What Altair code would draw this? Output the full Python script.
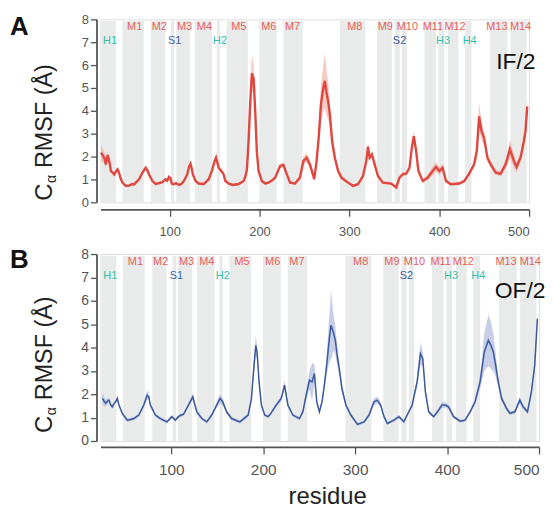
import altair as alt
import pandas as pd

# ---------------- data ----------------
res_A = [23.6, 25.5, 27.2, 29.1, 30.9, 32.8, 34.6, 36.5, 38.3, 40.2, 42.0, 43.9, 45.7, 47.5, 49.4, 51.2,
         54.9, 58.6, 60.5, 62.3, 66.0, 69.7, 72.0, 73.4, 75.2, 77.1, 80.8, 84.5, 88.2, 91.8, 95.5, 97.4,
         99.2, 101.0, 102.2, 104.8, 107.0, 110.3, 113.0, 115.8, 119.5, 121.5, 123.2, 125.0, 125.8, 128.8,
         132.4, 138.0, 143.5, 147.2, 150.0, 151.6, 153.0, 154.6, 157.5, 160.1, 162.0, 165.7, 170.0, 176.7,
         182.3, 184.0, 186.0, 187.8, 189.7, 191.5, 193.4, 195.2, 197.0, 198.9, 202.6, 206.3,
         210.0, 213.7, 217.4, 222.9, 226.6, 230.3, 234.0, 239.5, 245.0, 248.7, 252.4, 256.1, 260.9, 263.5,
         266.1, 268.3, 270.9, 272.7, 274.6, 276.4, 278.3, 280.8, 283.8, 287.5, 291.2, 298.5, 304.1, 309.6,
         315.1, 318.8, 320.7, 322.5, 325.1, 328.1, 331.8, 337.3, 346.6, 352.1, 355.8, 359.5, 363.2, 366.9,
         369.5, 371.7, 374.3, 376.8, 381.6, 387.2, 392.7, 396.4, 400.1, 403.8, 407.5, 413.0, 422.2, 427.8,
         433.3, 438.8, 441.8, 444.4, 447.0, 449.9, 453.6, 457.3, 462.8, 468.3, 473.9, 478.7, 483.1, 486.1,
         490.5, 494.2, 496.0, 497.9]
rmsf_A = [2.17, 2.05, 1.95, 1.66, 2.07, 1.80, 1.37, 1.30, 1.22, 1.35, 1.44, 1.25, 1.02, 0.86, 0.78, 0.72,
          0.73, 0.80, 0.78, 0.86, 1.01, 1.30, 1.44, 1.51, 1.40, 1.22, 0.93, 0.80, 0.84, 0.88, 1.01, 0.95,
          1.11, 1.05, 0.82, 0.79, 0.84, 0.76, 0.80, 0.93, 1.22, 1.55, 1.68, 1.40, 1.22, 0.93,
          0.82, 0.80, 1.01, 1.40, 1.80, 1.95, 1.75, 1.51, 1.37, 1.22, 0.93, 0.82, 0.76, 0.80,
          0.93, 1.10, 1.44, 2.67, 4.41, 5.64, 5.43, 3.98, 2.24, 1.37, 0.93, 0.82,
          0.86, 0.95, 1.08, 1.59, 1.63, 1.23, 0.86, 0.82, 1.08, 1.80, 1.95, 1.66, 1.01, 1.80,
          2.96, 4.27, 4.99, 5.31, 4.78, 4.41, 3.83, 2.67, 1.95, 1.37, 1.08, 0.86, 0.72, 0.79,
          1.15, 1.80, 2.43, 1.95, 2.09, 1.66, 1.15, 0.86, 0.82, 0.65, 1.08, 1.23, 1.25, 1.51,
          2.39, 2.89, 2.24, 1.37, 0.93, 1.08, 1.37, 1.55, 1.37, 1.51, 0.93, 0.79, 0.82, 0.93,
          1.25, 1.66, 2.24, 3.76, 3.11, 2.82, 1.95, 1.66, 1.30, 1.25, 1.66, 2.32, 1.80, 1.55,
          1.95, 2.67, 3.11, 4.19]
sd_A = [0.35, 0.30, 0.25, 0.20, 0.20, 0.15, 0.10, 0.08, 0.06, 0.06, 0.06, 0.06, 0.06, 0.06, 0.06, 0.06,
        0.06, 0.06, 0.06, 0.06, 0.06, 0.08, 0.10, 0.10, 0.10, 0.08, 0.06, 0.06, 0.06, 0.06, 0.08, 0.08,
        0.08, 0.08, 0.06, 0.06, 0.06, 0.06, 0.06, 0.06, 0.08, 0.10, 0.10, 0.10, 0.08, 0.06,
        0.06, 0.06, 0.06, 0.08, 0.12, 0.12, 0.12, 0.10, 0.08, 0.08, 0.06, 0.06, 0.06, 0.06,
        0.06, 0.08, 0.15, 0.40, 0.60, 0.80, 0.60, 0.40, 0.20, 0.10, 0.06, 0.06,
        0.06, 0.06, 0.08, 0.10, 0.10, 0.08, 0.06, 0.06, 0.10, 0.20, 0.20, 0.20, 0.10, 0.20,
        0.50, 0.80, 1.00, 1.20, 1.00, 0.80, 0.50, 0.30, 0.15, 0.10, 0.08, 0.06, 0.06, 0.06,
        0.08, 0.12, 0.15, 0.12, 0.12, 0.10, 0.08, 0.06, 0.06, 0.06, 0.08, 0.08, 0.08, 0.10,
        0.20, 0.25, 0.20, 0.10, 0.08, 0.12, 0.20, 0.20, 0.20, 0.15, 0.08, 0.06, 0.06, 0.08,
        0.10, 0.15, 0.30, 0.60, 0.40, 0.30, 0.20, 0.12, 0.10, 0.12, 0.20, 0.40, 0.30, 0.25,
        0.20, 0.25, 0.30, 0.30]

res_B = [25.1, 27.0, 28.7, 30.5, 32.3, 34.0, 35.9, 37.7, 39.5, 41.3, 43.1, 46.7, 52.1, 55.7, 59.3, 64.7,
         70.1, 73.7, 75.5, 77.3, 82.7, 88.1, 95.3, 100.7, 104.3, 107.9, 110.0, 113.3, 118.7, 123.4, 127.7,
         133.2, 138.6, 144.0, 149.4, 153.0, 155.9, 160.2, 165.6, 174.6, 183.6, 187.2, 189.7, 191.9, 193.3,
         195.5, 198.0, 201.6, 205.2,
         207.0, 214.2, 219.6, 223.2, 226.8, 232.2, 239.4, 243.1, 246.7, 250.3, 253.1, 255.7, 258.2, 261.1,
         264.0, 266.5, 269.0, 271.9, 273.7, 276.2, 278.4, 280.9, 282.7, 285.6, 289.9, 295.3, 302.5, 309.7,
         315.1, 320.5, 324.1, 327.7, 331.4, 335.0, 342.2, 347.6, 353.0, 356.6, 362.0, 367.4, 371.0, 373.5,
         376.4, 380.0, 385.4, 390.8, 394.4, 398.0, 401.6, 407.0, 414.2, 419.6, 425.0, 430.4, 435.9, 440.5,
         444.9, 447.7, 450.3, 452.8, 455.7, 459.3, 464.7, 468.3, 473.7, 479.1, 482.7, 487.4, 491.7, 495.3,
         498.2]
rmsf_B = [1.82, 1.70, 1.61, 1.70, 1.75, 1.55, 1.46, 1.60, 1.68, 1.82, 1.54, 1.18, 0.89, 0.92, 0.96, 1.11,
          1.54, 1.96, 1.90, 1.54, 1.11, 0.96, 0.82, 1.04, 0.89, 1.04, 1.10, 1.14, 1.54, 1.89, 1.25,
          0.96, 0.82, 1.11, 1.54, 1.82, 1.68, 1.25, 0.96, 0.82, 1.11, 1.82, 3.10, 4.09, 3.81,
          2.53, 1.54, 1.11, 1.04,
          1.11, 1.54, 1.82, 2.39, 1.54, 1.11, 0.96, 1.25, 1.96, 2.60, 2.53, 2.89, 1.68, 1.25,
          1.68, 2.39, 3.24, 4.38, 4.95, 4.66, 4.31, 3.53, 3.10, 2.25, 1.54, 1.11, 0.71, 0.82,
          1.11, 1.68, 1.75, 1.54, 1.04, 0.75, 0.89, 1.04, 0.82, 1.11, 1.54, 2.53, 3.74, 3.53,
          2.10, 1.25, 1.04, 1.32, 1.54, 1.54, 1.46, 1.04, 0.85, 0.89, 1.25, 1.68, 2.53, 3.81,
          4.31, 4.09, 3.81, 3.24, 2.53, 1.82, 1.39, 1.18, 1.25, 1.75, 1.46, 1.25, 2.10, 3.24,
          5.23]
sd_B = [0.25, 0.20, 0.15, 0.12, 0.10, 0.08, 0.07, 0.07, 0.07, 0.08, 0.07, 0.07, 0.07, 0.07, 0.07, 0.07,
        0.12, 0.20, 0.15, 0.10, 0.07, 0.07, 0.07, 0.07, 0.07, 0.07, 0.07, 0.07, 0.10, 0.15, 0.10,
        0.07, 0.07, 0.07, 0.12, 0.20, 0.15, 0.08, 0.07, 0.07, 0.07, 0.12, 0.30, 0.40, 0.30,
        0.15, 0.08, 0.07, 0.07,
        0.07, 0.08, 0.12, 0.20, 0.10, 0.07, 0.07, 0.10, 0.20, 0.40, 0.80, 0.40, 0.15, 0.10,
        0.12, 0.20, 0.40, 1.00, 1.50, 0.80, 0.60, 0.40, 0.30, 0.20, 0.10, 0.07, 0.07, 0.07,
        0.08, 0.15, 0.15, 0.12, 0.08, 0.07, 0.07, 0.08, 0.07, 0.08, 0.10, 0.20, 0.50, 0.30,
        0.15, 0.08, 0.07, 0.10, 0.12, 0.12, 0.10, 0.07, 0.07, 0.07, 0.08, 0.12, 0.30, 0.80,
        1.10, 1.00, 0.80, 0.50, 0.25, 0.12, 0.10, 0.08, 0.08, 0.15, 0.10, 0.08, 0.15, 0.25,
        0.30]

seg_name = ["H1", "M1", "M2", "S1", "M3", "M4", "H2", "M5", "M6", "M7", "M8", "M9", "S2", "M10",
            "M11", "H3", "M12", "H4", "M13", "M14"]
seg_start = [24.3, 47.5, 79.3, 101.4, 107.3, 128.0, 152.4, 163.5, 199.7, 226.6, 289.4, 330.7, 350.3,
             358.4, 383.5, 399.3, 409.7, 428.5, 456.6, 479.4]
seg_end = [40.2, 71.2, 94.8, 105.1, 122.8, 147.2, 156.0, 187.0, 219.2, 247.9, 317.7, 347.3, 356.1,
           364.2, 396.3, 405.6, 421.2, 435.9, 475.8, 497.1]
label_res = [33.6, 61.0, 88.5, 105.5, 116.6, 138.7, 156.0, 177.0, 210.3, 236.7, 306.0, 340.0, 355.8,
             364.5, 393.0, 404.3, 417.6, 433.9, 464.1, 490.5]
label_kind = ["H", "M", "M", "S", "M", "M", "H", "M", "M", "M", "M", "M", "S", "M", "M", "H", "M", "H",
              "M", "M"]
label_level = {"M": 7.65, "H": 7.05, "S": 7.05}
kind_color = {"M": "#e6605a", "H": "#2fbfa6", "S": "#3d5ea8"}

FONT = "Liberation Sans"
AXIS_COLOR = "#555555"


def panel(res, val, sd, line_color, band_color, band_opacity, line_width, width, height,
          letter, letter_y, state, state_x, state_y, ytitle_y, x_label_size, y_label_size,
          x_title, x_offset, y_offset):
    df = pd.DataFrame({"res": res, "rmsf": val,
                       "lo": [v - s for v, s in zip(val, sd)],
                       "hi": [v + s for v, s in zip(val, sd)]})
    segs = pd.DataFrame({"name": seg_name, "start": seg_start, "end": seg_end})
    labs = pd.DataFrame({"name": seg_name, "res": label_res,
                         "level": [label_level[k] for k in label_kind],
                         "color": [kind_color[k] for k in label_kind]})

    axis_kw = dict(values=[100, 200, 300, 400, 500], offset=x_offset, tickSize=7, tickWidth=1.3,
                   domainWidth=1.8, domainColor=AXIS_COLOR, tickColor=AXIS_COLOR,
                   labelColor=AXIS_COLOR, labelFont=FONT, labelFontSize=x_label_size,
                   labelPadding=9, grid=False)
    if x_title:
        xaxis = alt.Axis(title=x_title, titleFont=FONT, titleFontSize=24, titleFontWeight="normal",
                         titleColor="#222222", titlePadding=6, titleX=228, titleAlign="center",
                         **axis_kw)
    else:
        xaxis = alt.Axis(title=None, **axis_kw)
    yaxis = alt.Axis(values=list(range(0, 9)), offset=y_offset, tickSize=6, tickWidth=1.3,
                     domainWidth=1.8, domainColor=AXIS_COLOR, tickColor=AXIS_COLOR,
                     labelColor=AXIS_COLOR, labelFont=FONT, labelFontSize=y_label_size,
                     labelPadding=2, grid=False, title=None)
    xs = alt.Scale(domain=[23, 500], nice=False, zero=False)
    ys = alt.Scale(domain=[0, 8], nice=False)

    bands = alt.Chart(segs).mark_rect(color="#e9ebeb").encode(
        x=alt.X("start:Q", scale=xs, axis=xaxis), x2="end:Q",
        y=alt.Y("y0:Q", scale=ys, axis=yaxis), y2="y1:Q",
    ).transform_calculate(y0="0", y1="7.93")

    area = alt.Chart(df).mark_area(color=band_color, opacity=band_opacity).encode(
        x=alt.X("res:Q", scale=xs, axis=xaxis),
        y=alt.Y("lo:Q", scale=ys, axis=yaxis), y2="hi:Q")

    line = alt.Chart(df).mark_line(color=line_color, strokeWidth=line_width).encode(
        x=alt.X("res:Q", scale=xs, axis=xaxis),
        y=alt.Y("rmsf:Q", scale=ys, axis=yaxis))

    labels = alt.Chart(labs).mark_text(font=FONT, fontSize=11, baseline="middle",
                                       align="center").encode(
        x=alt.X("res:Q", scale=xs, axis=xaxis),
        y=alt.Y("level:Q", scale=ys, axis=yaxis),
        text="name:N", color=alt.Color("color:N", scale=None))

    def txt(t, x, y, size, **kw):
        return alt.Chart(pd.DataFrame({"t": [t]})).mark_text(font=FONT, fontSize=size, **kw).encode(
            text="t:N", x=alt.value(x), y=alt.value(y))

    letter_t = txt(letter, -81.5, letter_y, 26, fontWeight="bold", align="center",
                   baseline="alphabetic", color="#111111")
    state_t = txt(state, state_x, state_y, 23, align="right", baseline="alphabetic", color="#111111")
    c_t = txt("C", -48.5, ytitle_y, 24, angle=270, align="left", baseline="alphabetic",
              color="#222222")
    a_t = txt("α", -45.0, ytitle_y - 18, 14, angle=270, align="left", baseline="alphabetic",
              color="#222222")
    r_t = txt("RMSF (Å)", -48.5, ytitle_y - 33, 23.5, angle=270, align="left",
              baseline="alphabetic", color="#222222")

    return alt.layer(bands, area, line, labels, letter_t, state_t, c_t, a_t, r_t).properties(
        width=width, height=height)


pA = panel(res_A, rmsf_A, sd_A, "#e0473f", "#f2a89c", 0.6, 2.4, 431, 184,
           "A", 16, "IF/2", 437.5, 49.5, 182.5, 13, 13, None, 7, 4)
pB = panel(res_B, rmsf_B, sd_B, "#3b5a9e", "#a9b3dc", 0.65, 1.5, 441, 188,
           "B", 14, "OF/2", 447.5, 44, 180, 15.5, 14, "residue", 6, 4)

chart = alt.vconcat(pA, pB, spacing=7).properties(
    padding={"left": 1, "top": 3, "right": 0, "bottom": 0}
).configure_view(stroke=None).configure(background="white")

chart.save("out.html", embed_options={"renderer": "svg", "actions": False})
